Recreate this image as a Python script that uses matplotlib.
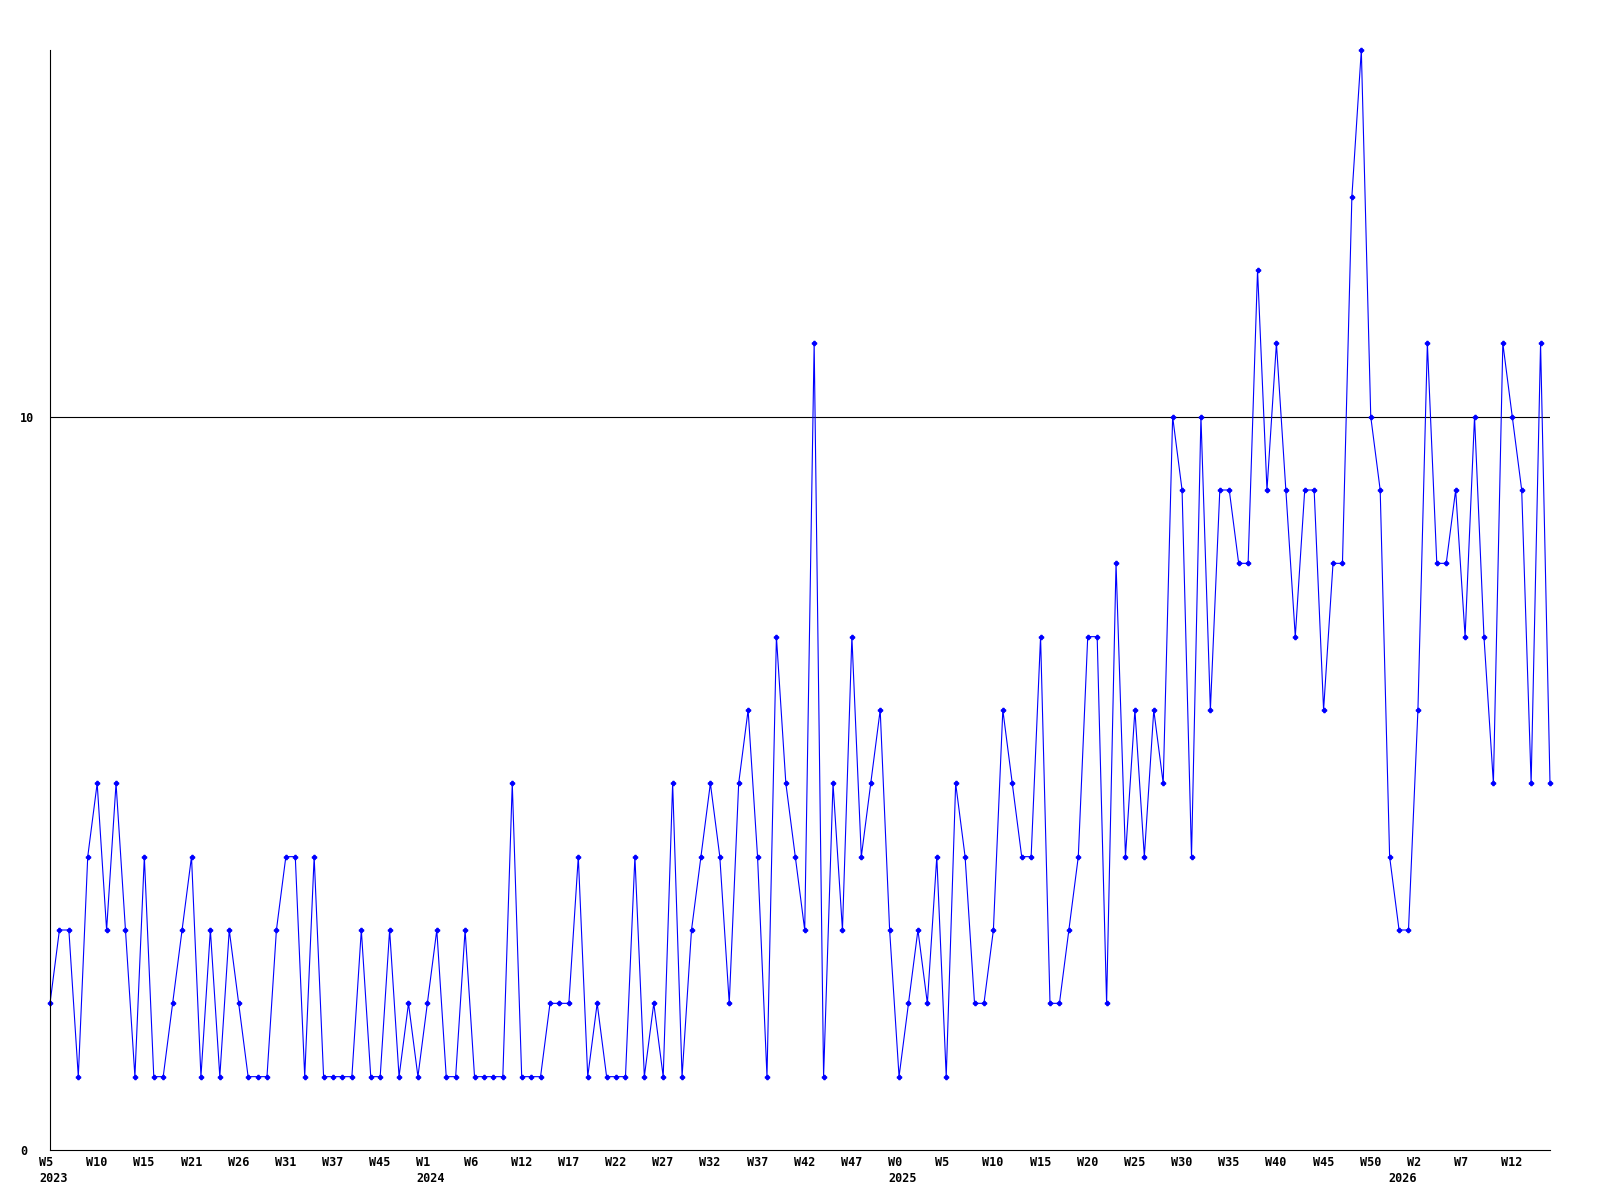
import numpy as np
import matplotlib
matplotlib.use('Agg')
import matplotlib.pyplot as plt
from matplotlib.transforms import ScaledTranslation, blended_transform_factory

values = [2, 3, 3, 1, 4, 5, 3, 5, 3, 1,
          4, 1, 1, 2, 3, 4, 1, 3, 1, 3,
          2, 1, 1, 1, 3, 4, 4, 1, 4, 1,
          1, 1, 1, 3, 1, 1, 3, 1, 2, 1,
          2, 3, 1, 1, 3, 1, 1, 1, 1, 5,
          1, 1, 1, 2, 2, 2, 4, 1, 2, 1,
          1, 1, 4, 1, 2, 1, 5, 1, 3, 4,
          5, 4, 2, 5, 6, 4, 1, 7, 5, 4,
          3, 11, 1, 5, 3, 7, 4, 5, 6, 3,
          1, 2, 3, 2, 4, 1, 5, 4, 2, 2,
          3, 6, 5, 4, 4, 7, 2, 2, 3, 4,
          7, 7, 2, 8, 4, 6, 4, 6, 5, 10,
          9, 4, 10, 6, 9, 9, 8, 8, 12, 9,
          11, 9, 7, 9, 9, 6, 8, 8, 13, 15,
          10, 9, 4, 3, 3, 6, 11, 8, 8, 9,
          7, 10, 7, 5, 11, 10, 9, 5, 11, 5]

week_labels = ['W5', 'W10', 'W15', 'W21', 'W26', 'W31', 'W37', 'W45',
               'W1', 'W6', 'W12', 'W17', 'W22', 'W27', 'W32', 'W37',
               'W42', 'W47', 'W0', 'W5', 'W10', 'W15', 'W20', 'W25',
               'W30', 'W35', 'W40', 'W45', 'W50', 'W2', 'W7', 'W12']
year_labels = ['2023', '2024', '2025', '2026']
year_pos = [0, 40, 90, 143]

x = np.arange(len(values))

fig = plt.figure(figsize=(16, 12), dpi=100)
ax = fig.add_axes([50/1600, 50/1200, 1500/1600, 1100/1200])

ax.axhline(10, color='black', lw=0.8)
ax.plot(x, values, color='#0000ff', lw=0.8, marker='P', markersize=3,
        clip_on=False)

ax.set_xlim(0, len(values) - 1)
ax.set_ylim(0, 15)
for s in ['top', 'right']:
    ax.spines[s].set_visible(False)
ax.spines['left'].set_linewidth(0.8)
ax.spines['bottom'].set_linewidth(0.8)

fnt = dict(family='DejaVu Sans Mono', weight='bold', size=8.5)

ax.set_yticks([0, 10])
ax.set_yticklabels(['0', '10'], **fnt)
ax.tick_params(axis='y', length=0, pad=21.6)
for lab in ax.get_yticklabels():
    lab.set_ha('left')

ax.set_xticks(x[::5])
ax.set_xticklabels(week_labels, **fnt)
ax.tick_params(axis='x', length=0, pad=4)
shift = ScaledTranslation(-11/100, 0, fig.dpi_scale_trans)
for lab in ax.get_xticklabels():
    lab.set_ha('left')
    lab.set_transform(lab.get_transform() + shift)

trans = blended_transform_factory(ax.transData, ax.transAxes) + shift
for pos, yr in zip(year_pos, year_labels):
    ax.text(pos, -0.02, yr, transform=trans, ha='left', va='top', **fnt)

fig.savefig('out.png', dpi=100)
